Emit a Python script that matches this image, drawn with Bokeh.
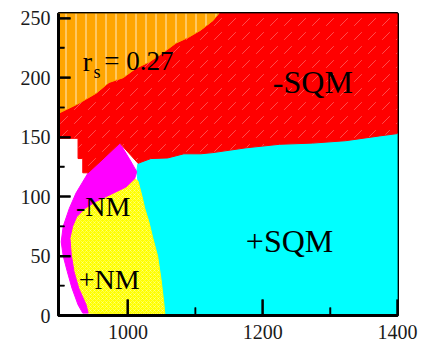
from bokeh.plotting import figure
from bokeh.models import Range1d, FixedTicker, Label
from bokeh.embed import file_html
from bokeh.resources import INLINE

# axis extents and ticks
x_min, x_max = 897, 1400
y_min, y_max = 0, 254
x_major = [1000, 1200, 1400]
x_minor = [1100, 1300]
y_major = [0, 50, 100, 150, 200, 250]
y_minor = [25, 75, 125, 175, 225]

# region boundaries (x, y in data units)
orange_red_x = [897, 926, 953, 972, 993, 1012, 1031, 1052, 1071, 1090, 1108, 1126, 1135]
orange_red_y = [170, 178, 187, 196, 200, 208, 213, 221, 229, 234, 240, 248, 254]

red_cyan_x = [1015, 1034, 1059, 1083, 1108, 1126, 1175, 1225, 1274, 1323, 1373, 1400]
red_cyan_y = [128, 132, 132.5, 136, 136, 137, 141, 144, 145, 147, 151, 153]

red_low_x = [941, 933, 933, 926, 926, 897]
red_low_y = [120, 120, 132, 132, 149, 149]

mag_outer_x = [988, 960, 941, 923, 913, 904, 901, 904, 910, 917, 926, 933]
mag_outer_y = [145, 130, 120, 103, 90, 75, 62, 50, 37, 23, 9, 2]
mag_inner_x = [941, 938, 927, 920, 916, 914, 918, 924, 936, 953, 975, 997, 1010, 1013, 1004]
mag_inner_y = [2, 9, 23, 37, 51, 65, 75, 83, 90, 96, 102, 108, 115, 121, 130]

yellow_cyan_x = [1015, 1021, 1025, 1031, 1037, 1044, 1049, 1053, 1055]
yellow_cyan_y = [113, 100, 90, 79, 65, 50, 31, 12, 0]

# tick sizes in pixels, and data units per pixel of the frame
x_major_px, x_minor_px = 16, 8
y_major_px, y_minor_px = 12, 6
x_per_px, y_per_px = 503 / 339, 254 / 302

p = figure(width=420, height=350, output_backend="svg", toolbar_location=None,
           x_range=Range1d(x_min, x_max), y_range=Range1d(y_min, y_max),
           min_border_left=58, min_border_right=23, min_border_top=13, min_border_bottom=35)
p.background_fill_color = "white"
p.border_fill_color = "white"
p.grid.visible = False
p.outline_line_color = "#000000"
p.outline_line_width = 3

# cyan (+SQM)
cx = red_cyan_x + [x_max] + yellow_cyan_x[::-1] + [mag_inner_x[-2]]
cy = red_cyan_y + [y_min] + yellow_cyan_y[::-1] + [mag_inner_y[-2]]
p.patch(cx, cy, fill_color="#00FFFF", line_color="#00FFFF", line_width=1)

# yellow (+NM)
yx = mag_inner_x[:13] + yellow_cyan_x
yy = mag_inner_y[:13] + yellow_cyan_y
p.patch(yx, yy, fill_color="#FFFF00", line_color="#FFFF00", line_width=1,
        hatch_pattern="diagonal_cross", hatch_color="white", hatch_alpha=0.3,
        hatch_scale=4, hatch_weight=1)

# magenta (-NM)
mx = mag_outer_x + mag_inner_x
my = mag_outer_y + mag_inner_y
p.patch(mx, my, fill_color="#FF00FF", line_color="#FF00FF", line_width=1)

# red (-SQM)
rx = orange_red_x + [x_max] + red_cyan_x[::-1] + mag_outer_x[:3] + red_low_x
ry = orange_red_y + [y_max] + red_cyan_y[::-1] + mag_outer_y[:3] + red_low_y
p.patch(rx, ry, fill_color="#FF0000", line_color="#FF0000", line_width=1,
        hatch_pattern="right_diagonal_dash", hatch_color="white", hatch_alpha=0.3,
        hatch_scale=14, hatch_weight=1)

# orange
ox = orange_red_x + [x_min]
oy = orange_red_y + [y_max]
p.patch(ox, oy, fill_color="#FFA500", line_color="#FFA500", line_width=1,
        hatch_pattern="vertical_line", hatch_color="white", hatch_alpha=0.5,
        hatch_scale=10, hatch_weight=1.5)

# inward ticks as thin bars on top of the regions
p.vbar(x=x_major, width=2 * x_per_px, bottom=y_min, top=y_min + x_major_px * y_per_px,
       fill_color="#000000", line_color=None)
p.vbar(x=x_minor, width=1.5 * x_per_px, bottom=y_min, top=y_min + x_minor_px * y_per_px,
       fill_color="#000000", line_color=None)
p.hbar(y=y_major, height=2 * y_per_px, left=x_min, right=x_min + y_major_px * x_per_px,
       fill_color="#000000", line_color=None)
p.hbar(y=y_minor, height=1.5 * y_per_px, left=x_min, right=x_min + y_minor_px * x_per_px,
       fill_color="#000000", line_color=None)

# axes (native inward ticks at the same places)
font = "Liberation Serif"
for ax in (p.xaxis[0], p.yaxis[0]):
    ax.axis_line_width = 3
    ax.axis_line_color = "#000000"
    ax.major_tick_out = 0
    ax.minor_tick_out = 0
    ax.major_tick_line_width = 2
    ax.minor_tick_line_width = 1.5
    ax.major_tick_line_color = "#000000"
    ax.minor_tick_line_color = "#000000"
    ax.major_label_text_font = font
    ax.major_label_text_font_size = "20px"
    ax.major_label_text_color = "#1a1a1a"

p.xaxis.ticker = FixedTicker(ticks=x_major, minor_ticks=x_minor)
p.yaxis.ticker = FixedTicker(ticks=y_major, minor_ticks=y_minor)
p.xaxis.major_tick_in = x_major_px
p.xaxis.minor_tick_in = x_minor_px
p.yaxis.major_tick_in = y_major_px
p.yaxis.minor_tick_in = y_minor_px
p.xaxis.major_label_standoff = 9
p.yaxis.major_label_standoff = 8

# region labels
def lab(x, y, t, size):
    p.add_layout(Label(x=x, y=y, text=t, text_font=font, text_font_size=size,
                       text_color="black", text_baseline="alphabetic", text_align="left"))

lab(933, 214, "r", "28px")
lab(949, 205, "s", "18px")
lab(965, 214, "= 0.27", "27px")
lab(1215, 196, "-SQM", "32px")
lab(1175, 63, "+SQM", "32px")
lab(923, 92, "-NM", "28px")
lab(927, 30, "+NM", "28px")

open("out.html", "w").write(file_html(p, INLINE))
